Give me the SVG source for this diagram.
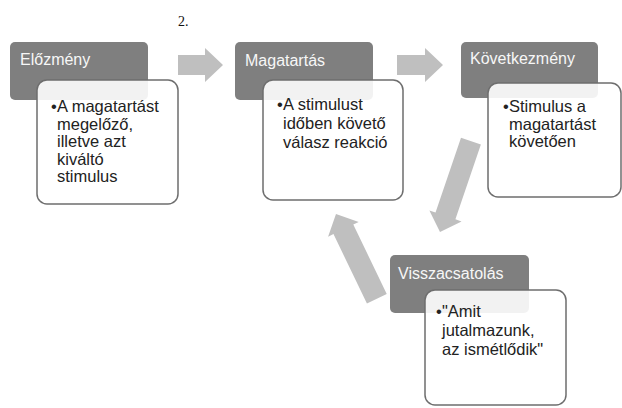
<svg xmlns="http://www.w3.org/2000/svg" width="622" height="408" viewBox="0 0 622 408">
<style>
.hdr{fill:#7f7f7f}
.card{fill:#ffffff;fill-opacity:0.9;stroke:#6e6e6e;stroke-width:1.5}
.ttl{font-family:"Liberation Sans",Arial,sans-serif;font-size:16px;fill:#f7f7f7}
.body{font-family:"Liberation Sans",Arial,sans-serif;font-size:16.5px;fill:#222}
.arr{fill:#bfbfbf}
</style>
<rect width="622" height="408" fill="#ffffff"/>
<text x="178" y="26" font-family="Liberation Serif,serif" font-size="14" fill="#111">2.</text>
<g id="connectors" class="arr">
<polygon points="178,55 205,55 205,48 223,65 205,82 205,75 178,75"/>
<polygon points="397,55 425,55 425,48 443,65 425,82 425,75 397,75"/>
<polygon points="-96,-10.5 -17,-10.5 -17,-17 0,0 -17,17 -17,10.5 -96,10.5" transform="translate(440,232) rotate(108.8)"/>
<polygon points="-94,-11 -17,-11 -17,-17 0,0 -17,17 -17,11 -94,11" transform="translate(336,214) rotate(244.25)"/>
</g>
<g id="elozmeny">
<rect class="hdr" x="10" y="42" width="138" height="58" rx="5"/>
<text class="ttl" x="20" y="65">Előzmény</text>
<rect class="card" x="37" y="80" width="141" height="124" rx="10"/>
<text class="body" font-size="17"><tspan x="51" y="112">•</tspan><tspan x="57" y="112">A magatartást</tspan><tspan x="57" y="129.5">megelőző,</tspan><tspan x="57" y="147">illetve azt</tspan><tspan x="57" y="164.5">kiváltó</tspan><tspan x="57" y="182">stimulus</tspan></text>
</g>
<g id="magatartas">
<rect class="hdr" x="235" y="42" width="138" height="58" rx="5"/>
<text class="ttl" x="245" y="66">Magatartás</text>
<rect class="card" x="263" y="80" width="140" height="120" rx="10"/>
<text class="body"><tspan x="277" y="110">•</tspan><tspan x="283" y="110">A stimulust</tspan><tspan x="283" y="129">időben követő</tspan><tspan x="283" y="148">válasz reakció</tspan></text>
</g>
<g id="kovetkezmeny">
<rect class="hdr" x="461" y="42" width="137" height="56" rx="5"/>
<text class="ttl" x="470" y="64">Következmény</text>
<rect class="card" x="488" y="83" width="133" height="114" rx="10"/>
<text class="body" font-size="17"><tspan x="503" y="112">•</tspan><tspan x="509" y="112">Stimulus a</tspan><tspan x="509" y="129.5">magatartást</tspan><tspan x="509" y="147">követően</tspan></text>
</g>
<g id="visszacsatolas">
<rect class="hdr" x="390" y="255" width="139" height="58" rx="5"/>
<text class="ttl" x="398" y="279">Visszacsatolás</text>
<rect class="card" x="425" y="290" width="141" height="115" rx="10"/>
<text class="body"><tspan x="436" y="317">•</tspan><tspan x="442" y="317">"Amit</tspan><tspan x="442" y="336">jutalmazunk,</tspan><tspan x="442" y="355">az ismétlődik"</tspan></text>
</g>
</svg>
